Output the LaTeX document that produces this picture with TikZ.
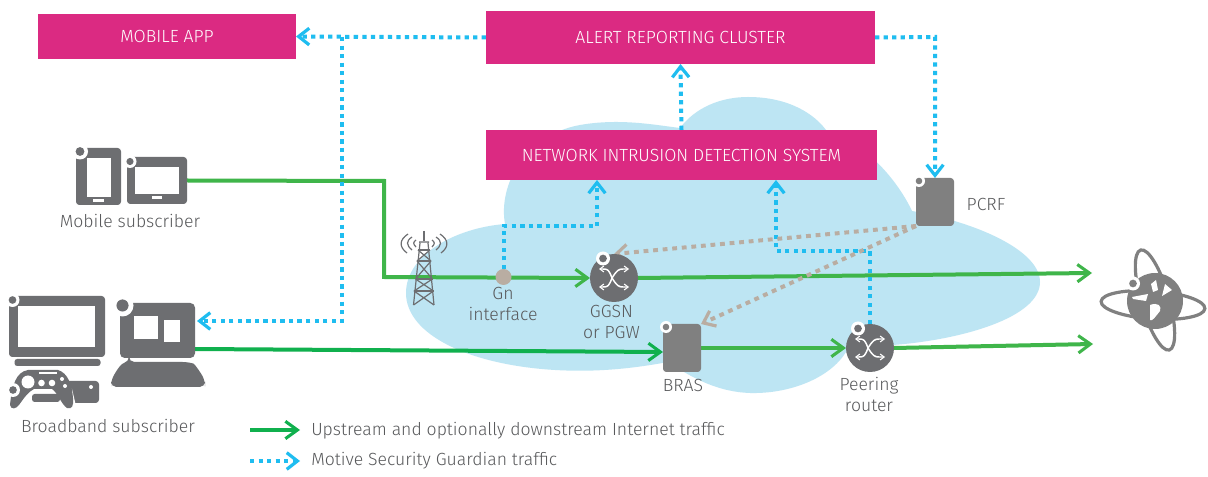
\documentclass[tikz,border=0pt]{standalone}
\usepackage{fontspec}
\setmainfont{Fira Sans Light}
\usetikzlibrary{arrows.meta,calc}
\newdimen\px \px=0.75pt
\definecolor{mag}{HTML}{DB2A82}
\definecolor{cloudc}{HTML}{BDE5F3}
\definecolor{grn}{HTML}{3FB54A}
\definecolor{dkgrn}{HTML}{10B04E}
\definecolor{sky}{HTML}{1FBDF0}
\definecolor{taupe}{HTML}{B9ADA2}
\definecolor{iconc}{HTML}{6D6E71}
\definecolor{boxc}{HTML}{808080}
\definecolor{txt}{HTML}{58595B}
\pgfdeclarelayer{back}\pgfdeclarelayer{conn}
\pgfsetlayers{back,conn,main}
\tikzset{
  x=0.75pt,y=-0.75pt,
  banner/.style={fill=mag,text=white,inner sep=0pt,outer sep=0pt,font=\fontsize{13.2}{15}\selectfont},
  lbl/.style={text=txt,inner sep=0pt,align=center,font=\fontsize{13.2}{15.5}\selectfont},
  devbox/.style={fill=boxc,rounded corners=2.5pt,inner sep=0pt,outer sep=0pt,minimum width=38\px,minimum height=48\px},
  router/.style={circle,fill=iconc,inner sep=0pt,outer sep=0pt,minimum size=48\px},
  gnode/.style={circle,fill=taupe,inner sep=0pt,outer sep=0pt,minimum size=16\px},
  icon/.style={fill=iconc,rounded corners=2.5pt,inner sep=0pt,outer sep=0pt},
  screen/.style={fill=white,inner sep=0pt,outer sep=0pt},
  up/.style={draw=grn,line width=3pt,-{Straight Barb[length=9pt,width=13pt,line width=2.3pt]}},
  upplain/.style={draw=grn,line width=3pt},
  motive/.style={draw=sky,line width=3pt,dash pattern=on 3.2pt off 3.2pt,-{Straight Barb[length=8pt,width=12.5pt,line width=2.4pt]}},
  motiveplain/.style={draw=sky,line width=3pt,dash pattern=on 3.2pt off 3.2pt},
  pol/.style={draw=taupe,line width=3pt,dash pattern=on 3.6pt off 3.6pt,-{Straight Barb[length=8pt,width=12.5pt,line width=2.4pt]}},
}
% white notch with a dot, at top-left of an icon
\newcommand\notch[4]{\fill[white] (#1,#2) circle (#3); \fill[#4] (#1,#2) circle (#3*0.55);}
\newcommand\switchglyph[1]{%
 \begin{scope}[shift={(#1)},white,line width=1.1pt,arrows={-{Straight Barb[length=3pt,width=4.5pt,line width=.8pt]}}]
  \draw (-2,0) .. controls (-5,-8) and (-6,-9) .. (-11,-9) -- (-15,-9);
  \draw (-2,0) .. controls (-5,8) and (-6,9) .. (-11,9) -- (-15,9);
  \draw (-2,0) .. controls (3,-8) and (5,-9) .. (9,-9) -- (15,-9);
  \draw (-2,0) .. controls (3,8) and (5,9) .. (9,9) -- (15,9);
 \end{scope}}
\begin{document}
\begin{tikzpicture}
\useasboundingbox (0,0) rectangle (1208,477);
\begin{pgfonlayer}{back}
\fill[white] (0,0) rectangle (1208,477);
\fill[cloudc] (406,293)
 .. controls (406,255) and (455,228) .. (505,224)
 .. controls (498,185) and (525,135) .. (580,125)
 .. controls (620,118) and (655,125) .. (680,128)
 .. controls (695,108) and (720,97) .. (748,97)
 .. controls (790,97) and (815,115) .. (826,130)
 .. controls (860,140) and (895,175) .. (912,211)
 .. controls (975,222) and (1040,250) .. (1040,282)
 .. controls (1040,318) and (960,340) .. (893,345)
 -- (846,352)
 .. controls (830,378) and (790,394) .. (750,393)
 .. controls (720,392) and (695,380) .. (668,362)
 .. controls (625,370) and (590,372) .. (555,370)
 .. controls (470,365) and (406,335) .. (406,293) -- cycle;
\end{pgfonlayer}

% banners
\node[banner,minimum width=258\px,minimum height=45\px] (app) at (167,36.5) {MOBILE APP};
\node[banner,minimum width=389\px,minimum height=53\px] (alert) at (680.5,37.5) {ALERT REPORTING CLUSTER};
\node[banner,minimum width=391\px,minimum height=50\px] (nids) at (681.5,155) {NETWORK INTRUSION DETECTION SYSTEM};

% mobile subscriber
\node[icon,minimum width=45\px,minimum height=57\px] (phone) at (98.5,176.5) {};
\node[screen,minimum width=24\px,minimum height=39\px] (phonescr) at (99,177.5) {};
\node[screen,minimum width=11\px,minimum height=3\px] (phonebtn) at (98.5,200.5) {};
\node[icon,minimum width=60\px,minimum height=47\px] (tablet) at (157,180.5) {};
\node[screen,minimum width=44\px,minimum height=27\px] (tabletscr) at (157,180.5) {};
\node[screen,minimum width=10\px,minimum height=3\px] (tabletbtn) at (157,197.5) {};
\notch{80}{151.5}{8}{iconc}
\notch{130}{161.5}{6.5}{iconc}
\node[lbl] (mobile) at (130,220.5) {Mobile subscriber};

% broadband subscriber: TV, bar, game pad, console
\node[icon,minimum width=96\px,minimum height=61\px] (tv) at (57,326.5) {};
\node[screen,minimum width=77\px,minimum height=41\px] (tvscr) at (56.5,326.5) {};
\node[icon,minimum width=86\px,minimum height=7\px,rounded corners=2pt] (tvbar) at (57.5,362.5) {};
\node[icon,minimum width=68\px,minimum height=22\px] (console) at (65,392) {};
\notch{12.5}{300}{7}{iconc}
\fill[white] (29,389) -- (72,389) -- (76,406) -- (24,406) -- cycle;
\fill[iconc,rounded corners=2pt] (32,394) rectangle (60,402);
\fill[iconc] (28,370) .. controls (16,372) and (12,385) .. (10,405)
  .. controls (11,410) and (16,409) .. (19,405)
  .. controls (24,398) and (28,392) .. (34,389) -- (52,389)
  .. controls (58,393) and (61,404) .. (67,408)
  .. controls (72,410) and (74,405) .. (73,398)
  .. controls (72,385) and (68,373) .. (58,370) -- cycle;
\notch{13}{390}{7}{iconc}
\fill[white] (28,382) circle (6.5);
\fill[white] (41.5,383) circle (3.3);
\fill[white] (52,383) circle (3.3);
\fill[white] (62,379) circle (2);
\fill[white] (65,386) circle (2);
\fill[white] (39,372.5) rectangle (57,374);
\fill[white] (91,387) circle (2);
\node[lbl] (broad) at (108,425.5) {Broadband subscriber};

% desktop
\node[icon,minimum width=75\px,minimum height=55\px,rounded corners=3.5pt] (desk) at (157.5,330.5) {};
\node[screen,minimum width=24\px,minimum height=23\px] (win1) at (146,327.5) {};
\node[screen,minimum width=16\px,minimum height=22\px] (win2) at (172,331) {};
\notch{122.5}{305.5}{11}{iconc}
\fill[iconc,rounded corners=4pt] (129,362) -- (188,362) .. controls (195,364) and (202,375) .. (205,381) -- (205,387) -- (111,387) -- (111,381) .. controls (114,375) and (120,364) .. (129,362) -- cycle;

% tower
\begin{scope}[draw=iconc,line width=.9pt]
\draw (424,231) -- (424,241);
\draw (419,242) -- (429,242) (413.5,305) -- (420,243) (434,305) -- (428,243);
\draw (418,250) -- (430,250) (417,261) -- (431,261) (415.5,279) -- (432.5,279) (414,291) -- (433.5,291);
\draw (418,250) -- (431,261) (430,250) -- (417,261) (417,261) -- (432.5,279) (431,261) -- (415.5,279) (415.5,279) -- (433.5,291) (432.5,279) -- (414,291) (414,291) -- (434,305) (433.5,291) -- (413.5,305);
\draw (408,234) .. controls (399,240) and (399,247) .. (407,253);
\draw (412,237) .. controls (406,241) and (406,245) .. (412,250);
\draw (416,240) .. controls (413,242) and (413,244) .. (416,247);
\draw (440,234) .. controls (449,240) and (449,247) .. (441,253);
\draw (436,237) .. controls (442,241) and (442,245) .. (436,250);
\draw (432,240) .. controls (435,242) and (435,244) .. (432,247);
\end{scope}

% network elements
\node[gnode] (gn) at (503.5,277) {};
\node[lbl] (gnlbl) at (503,304) {Gn\\interface};
\node[router] (ggsn) at (614,278) {};
\notch{603}{258.5}{7}{iconc}
\switchglyph{614,278}
\node[lbl] (ggsnlbl) at (611.5,322) {GGSN\\or PGW};
\node[devbox] (bras) at (682,348) {};
\notch{666}{327}{6}{boxc}
\node[lbl] (braslbl) at (683,385.5) {BRAS};
\node[router] (peer) at (870,348) {};
\notch{858}{328.5}{7}{iconc}
\switchglyph{870,348}
\node[lbl] (peerlbl) at (869,394.5) {Peering\\router};
\node[devbox] (pcrf) at (935,202) {};
\notch{919}{181}{6}{boxc}
\node[lbl] (pcrflbl) at (986,204) {PCRF};

% globe
\begin{scope}[draw=boxc,line width=2.4pt]
\fill[boxc] (1155,301) circle (28);
\draw[rotate around={-4:(1153,305)}] (1153,305) ellipse (52 and 14);
\draw[rotate around={16:(1155,300)}] (1155,300) ellipse (14 and 52);
\fill[white] (1132,297) -- (1148,294) -- (1146,301) -- (1133,299) -- cycle;
\fill[white] (1150,305) .. controls (1158,302) and (1162,306) .. (1160,311) .. controls (1156,316) and (1152,322) .. (1150,320) -- cycle;
\fill[white] (1151,284) -- (1156,280) -- (1158,290) -- (1153,292) -- cycle;
\fill[white] (1165,284) -- (1172,290) -- (1162,296) -- cycle;
\end{scope}
\notch{1133}{283.5}{7}{boxc}

% legend
\coordinate (k1a) at (250,430); \coordinate (k1b) at (300,430);
\coordinate (k2a) at (250,461); \coordinate (k2b) at (300,461);
\node[lbl,anchor=west] (k1) at (311,430.5) {Upstream and optionally downstream Internet traffic};
\node[lbl,anchor=west] (k2) at (311,461) {Motive Security Guardian traffic};

% way points and free ends
\coordinate (branch) at (342,37);
\coordinate (desktip) at (197,321);
\coordinate (cnrA) at (935,37);
\coordinate (gnup) at (503.5,226);
\coordinate (nidsA) at (597,180);
\coordinate (peerup) at (870,251);
\coordinate (nidsB) at (776,180);
\coordinate (towerA) at (384,181);
\coordinate (towerB) at (384,277);
\coordinate (netA) at (1092,273);
\coordinate (netB) at (1093,344);
\coordinate (deskout) at (195,349);
\coordinate (brasin) at (663,352);

\begin{pgfonlayer}{conn}
\draw[up] (tablet.east) -- (towerA) -- (towerB) -- (ggsn.west);
\draw[up] (ggsn.east) -- (netA);
\draw[up,draw=dkgrn] (deskout) -- (brasin);
\draw[up] (bras.east) -- (peer.west);
\draw[up] (peer.east) -- (netB);
\draw[up,draw=dkgrn] (k1a) -- (k1b);
\draw[motive] (alert.west) -- (app.east);
\draw[motive] (branch) -- (branch |- desktip) -- (desktip);
\draw[motive] (alert.east) -- (cnrA) -- (pcrf.north);
\draw[motive] (nids.north) -- (alert.south);
\draw[motive] (gn.north) -- (gnup) -- (gnup -| nidsA) -- (nidsA);
\draw[motive] (peer.north) -- (peerup) -- (peerup -| nidsB) -- (nidsB);
\draw[motive] (k2a) -- (k2b);
\draw[pol] (pcrf.south west) -- (ggsn.north);
\draw[pol] (pcrf.south west) -- (bras.north east);
\end{pgfonlayer}
\end{tikzpicture}
\end{document}
